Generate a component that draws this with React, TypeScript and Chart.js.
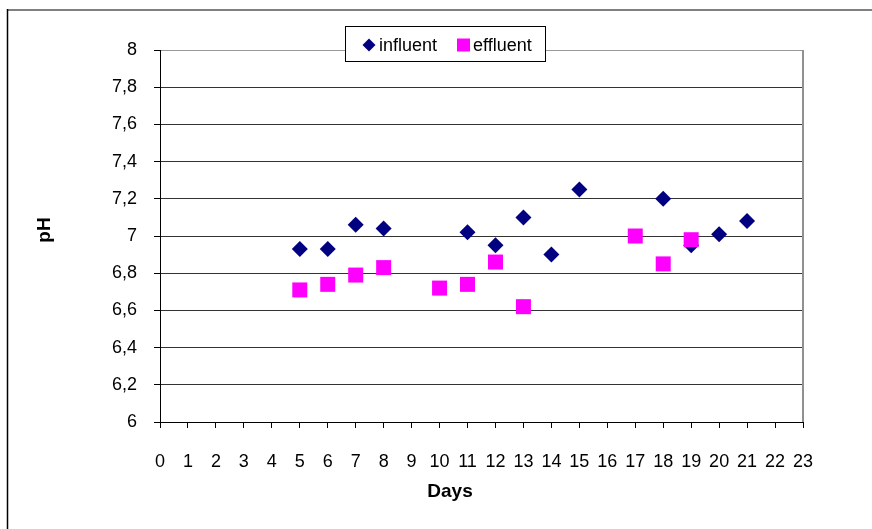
import { useEffect, useRef } from "react";
import { Chart, registerables } from "chart.js";

Chart.register(...registerables);

const influentDays = [5, 6, 7, 8, 11, 12, 13, 14, 15, 18, 19, 20, 21];
const influentPH = [6.93, 6.93, 7.06, 7.04, 7.02, 6.95, 7.1, 6.9, 7.25, 7.2, 6.95, 7.01, 7.08];
const effluentDays = [5, 6, 7, 8, 10, 11, 12, 13, 17, 18, 19];
const effluentPH = [6.71, 6.74, 6.79, 6.83, 6.72, 6.74, 6.86, 6.62, 7.0, 6.85, 6.98];

const seriesNames = ["influent", "effluent"];
const xTitle = "Days";
const yTitle = "pH";
const xMin = 0;
const xMax = 23;
const yMin = 6;
const yMax = 8;

const NAVY = "#000080";
const MAGENTA = "#FF00FF";
const FONT = "'Liberation Sans', Arial, sans-serif";

const decorPlugin = {
  id: "decor",
  afterDraw(chart: any) {
    const ctx = chart.ctx as CanvasRenderingContext2D;
    const area = chart.chartArea;
    ctx.save();
    // outer frame
    ctx.strokeStyle = "#808080";
    ctx.lineWidth = 2;
    ctx.beginPath();
    ctx.moveTo(7, 10);
    ctx.lineTo(872, 10);
    ctx.stroke();
    ctx.strokeStyle = "#000";
    ctx.lineWidth = 1.5;
    ctx.beginPath();
    ctx.moveTo(7.5, 9);
    ctx.lineTo(7.5, 529);
    ctx.stroke();
    // plot right border
    ctx.strokeStyle = "#909090";
    ctx.lineWidth = 2;
    ctx.beginPath();
    ctx.moveTo(Math.round(area.right), area.top);
    ctx.lineTo(Math.round(area.right), area.bottom);
    ctx.stroke();

    // axis titles
    ctx.fillStyle = "#000";
    ctx.font = `bold 19px ${FONT}`;
    ctx.textAlign = "center";
    ctx.textBaseline = "middle";
    ctx.fillText(xTitle, 450, 492);
    ctx.save();
    ctx.translate(45, 230);
    ctx.rotate(-Math.PI / 2);
    ctx.fillText(yTitle, 0, 0);
    ctx.restore();

    // legend
    const bx = 345.5, by = 26.5, bw = 200, bh = 35;
    ctx.fillStyle = "#fff";
    ctx.fillRect(bx, by, bw, bh);
    ctx.strokeStyle = "#000";
    ctx.lineWidth = 1;
    ctx.strokeRect(bx, by, bw, bh);
    const cy = 45;
    ctx.fillStyle = NAVY;
    ctx.beginPath();
    ctx.moveTo(369, cy - 6.5);
    ctx.lineTo(375.5, cy);
    ctx.lineTo(369, cy + 6.5);
    ctx.lineTo(362.5, cy);
    ctx.closePath();
    ctx.fill();
    ctx.fillStyle = MAGENTA;
    ctx.fillRect(457, cy - 6.5, 13, 13);
    ctx.fillStyle = "#000";
    ctx.font = `18px ${FONT}`;
    ctx.textAlign = "left";
    ctx.textBaseline = "middle";
    ctx.fillText(seriesNames[0], 379, cy + 1);
    ctx.fillText(seriesNames[1], 473, cy + 1);
    ctx.restore();
  },
};

function fmt(v: number) {
  const r = Math.round(v * 10) / 10;
  if (Number.isInteger(r)) return String(r);
  return r.toFixed(1).replace(".", ",");
}

export default function App() {
  const ref = useRef<HTMLCanvasElement>(null);
  useEffect(() => {
    if (!ref.current) return;
    const chart = new Chart(ref.current, {
      type: "scatter",
      data: {
        datasets: [
          {
            label: seriesNames[0],
            data: influentDays.map((d, i) => ({ x: d, y: influentPH[i] })),
            backgroundColor: NAVY,
            borderColor: NAVY,
            borderWidth: 0,
            pointStyle: "rectRot",
            pointRadius: 8,
            order: 1,
          },
          {
            label: seriesNames[1],
            data: effluentDays.map((d, i) => ({ x: d, y: effluentPH[i] })),
            backgroundColor: MAGENTA,
            borderColor: MAGENTA,
            borderWidth: 0,
            pointStyle: "rect",
            pointRadius: 10.6,
            order: 0,
          },
        ],
      },
      options: {
        responsive: false,
        animation: false,
        layout: { padding: { left: 0, top: 50, right: 69, bottom: 0 } },
        plugins: {
          legend: { display: false },
          tooltip: { enabled: false },
        },
        scales: {
          x: {
            type: "linear",
            min: xMin,
            max: xMax,
            afterFit: (s: any) => {
              s.height = 107;
            },
            ticks: {
              stepSize: 1,
              color: "#000",
              font: { family: FONT, size: 18 },
              padding: 23,
              maxRotation: 0,
              autoSkip: false,
            },
            grid: {
              drawOnChartArea: false,
              drawTicks: true,
              tickLength: 6,
              tickColor: "#000",
            },
            border: { color: "#000", width: 1 },
          },
          y: {
            min: yMin,
            max: yMax,
            afterFit: (s: any) => {
              s.width = 160;
            },
            ticks: {
              stepSize: 0.2,
              color: "#000",
              font: { family: FONT, size: 18 },
              padding: 17,
              callback: (v: any) => fmt(Number(v)),
            },
            grid: {
              color: (c: any) => (c.tick && Math.abs(c.tick.value - yMax) < 1e-6 ? "#999" : "#333"),
              drawTicks: true,
              tickLength: 6,
              tickColor: "#000",
            },
            border: { color: "#000", width: 1 },
          },
        },
      },
      plugins: [decorPlugin],
    });
    return () => chart.destroy();
  }, []);
  return (
    <div style={{ position: "absolute", left: 0, top: 0, width: 872, height: 529, background: "#fff" }}>
      <canvas ref={ref} width={872} height={529} style={{ display: "block" }} />
    </div>
  );
}
